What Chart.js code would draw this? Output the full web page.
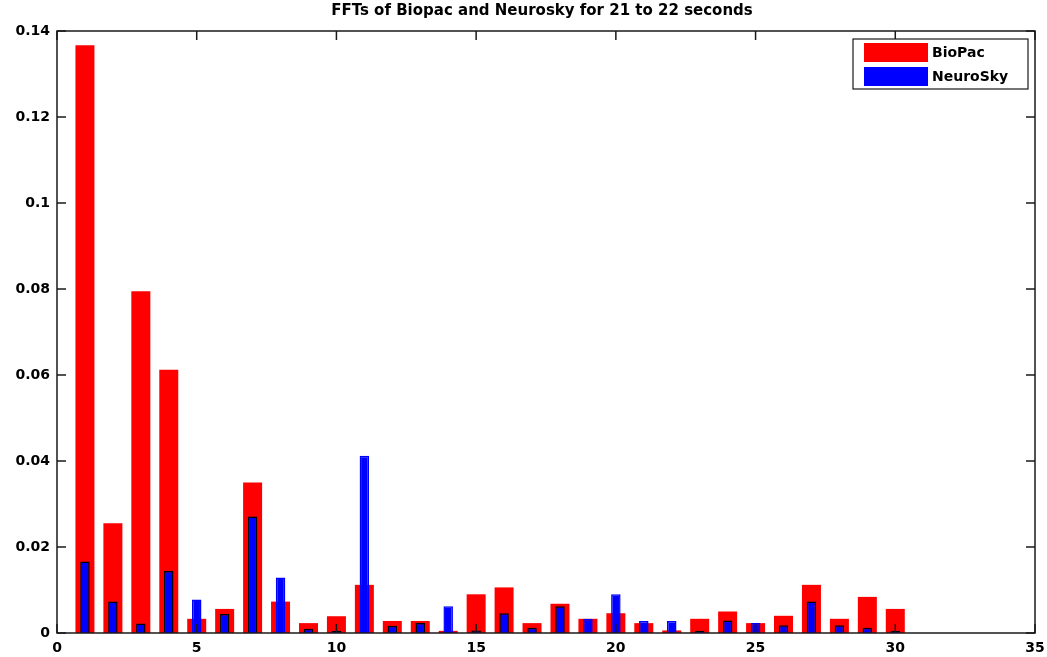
<!DOCTYPE html>
<html>
<head>
<meta charset="utf-8">
<script src="https://cdn.jsdelivr.net/npm/chart.js@4"></script>
<style>
  html, body { margin: 0; padding: 0; background: #fff; }
  #wrap { width: 1047px; height: 657px; }
</style>
</head>
<body>
<div id="wrap"><canvas id="c"></canvas></div>
<script>
// frequency bins (Hz)
const freqs = [1, 2, 3, 4, 5, 6, 7, 8, 9, 10, 11, 12, 13, 14, 15,
               16, 17, 18, 19, 20, 21, 22, 23, 24, 25, 26, 27, 28, 29, 30];
const biopac = [0.1367, 0.0255, 0.0795, 0.0612, 0.0033, 0.0056, 0.0350, 0.0073, 0.0023, 0.0039,
                0.0112, 0.0028, 0.0028, 0.0005, 0.0090, 0.0106, 0.0023, 0.0068, 0.0033, 0.0046,
                0.0023, 0.0006, 0.0033, 0.0050, 0.0023, 0.0040, 0.0112, 0.0033, 0.0084, 0.0056];
const neurosky = [0.0166, 0.0073, 0.0022, 0.0144, 0.0078, 0.0044, 0.0271, 0.0129, 0.0010, 0.0005,
                  0.0412, 0.0017, 0.0023, 0.0062, 0.0006, 0.0046, 0.0012, 0.0062, 0.0033, 0.0090,
                  0.0028, 0.0028, 0.0005, 0.0029, 0.0023, 0.0018, 0.0073, 0.0018, 0.0012, 0.0005];
const title = 'FFTs of Biopac and Neurosky for 21 to 22 seconds';

const FONT = '"DejaVu Sans", sans-serif';

// MATLAB-like frame: box, inward ticks, title and legend box
const matlabAxes = {
  id: 'matlabAxes',
  afterDatasetsDraw(chart) {
    const ctx = chart.ctx;
    const a = chart.chartArea;
    const xs = chart.scales.x, ys = chart.scales.y;
    ctx.save();
    ctx.strokeStyle = '#1a1a1a';
    ctx.lineWidth = 1.5;
    ctx.strokeRect(a.left, a.top, a.right - a.left, a.bottom - a.top);
    ctx.beginPath();
    const tl = 9;
    xs.ticks.forEach(t => {
      const px = xs.getPixelForValue(t.value);
      ctx.moveTo(px, a.bottom); ctx.lineTo(px, a.bottom - tl);
      ctx.moveTo(px, a.top); ctx.lineTo(px, a.top + tl);
    });
    ys.ticks.forEach(t => {
      const py = ys.getPixelForValue(t.value);
      ctx.moveTo(a.left, py); ctx.lineTo(a.left + tl, py);
      ctx.moveTo(a.right, py); ctx.lineTo(a.right - tl, py);
    });
    ctx.stroke();

    // title
    ctx.fillStyle = '#000';
    ctx.font = 'bold 15px ' + FONT;
    ctx.textAlign = 'center';
    ctx.textBaseline = 'middle';
    ctx.fillText(title, (a.left + a.right) / 2 - 4, 11);

    // legend
    const bx = a.right - 182, by = a.top + 8, bw = 175, bh = 50;
    ctx.fillStyle = '#fff';
    ctx.fillRect(bx, by, bw, bh);
    ctx.lineWidth = 1.2;
    ctx.strokeRect(bx, by, bw, bh);
    ctx.font = 'bold 14px ' + FONT;
    ctx.textAlign = 'left';
    chart.data.datasets.forEach((ds, i) => {
      const sy = by + 4 + i * 24;
      ctx.fillStyle = ds.backgroundColor;
      ctx.fillRect(bx + 11, sy, 64, 19);
      ctx.fillStyle = '#000';
      ctx.fillText(ds.label, bx + 79, sy + 10);
    });
    ctx.restore();
  }
};

new Chart(document.getElementById('c'), {
  type: 'bar',
  data: {
    datasets: [
      {
        label: 'BioPac',
        data: freqs.map((f, i) => ({x: f, y: biopac[i]})),
        backgroundColor: '#ff0000',
        borderWidth: 0,
        grouped: false,
        barPercentage: 0.68,
        categoryPercentage: 1,
        order: 2
      },
      {
        label: 'NeuroSky',
        data: freqs.map((f, i) => ({x: f, y: neurosky[i]})),
        backgroundColor: '#0000ff',
        borderColor: ctx => (neurosky[ctx.dataIndex] < biopac[ctx.dataIndex] ? '#000' : '#0000ff'),
        borderWidth: {left: 1.5, right: 1.5, top: 1.5, bottom: 0},
        grouped: false,
        barPercentage: 0.34,
        categoryPercentage: 1,
        order: 1
      }
    ]
  },
  options: {
    responsive: true,
    maintainAspectRatio: false,
    animation: false,
    layout: { padding: { top: 31, right: 12, left: 0, bottom: 0 } },
    plugins: {
      legend: { display: false },
      title: { display: false },
      tooltip: { enabled: false }
    },
    scales: {
      x: {
        type: 'linear',
        min: 0,
        max: 35,
        offset: false,
        grid: { display: false, drawTicks: false, offset: false },
        border: { display: false },
        ticks: { stepSize: 5, padding: 7, color: '#000', font: { family: FONT, size: 14, weight: 'bold' } },
        afterFit: s => { s.height = 24; s.paddingLeft = 0; s.paddingRight = 0; }
      },
      y: {
        min: 0,
        max: 0.14,
        grid: { display: false, drawTicks: false },
        border: { display: false },
        ticks: {
          stepSize: 0.02,
          padding: 7,
          color: '#000',
          font: { family: FONT, size: 14, weight: 'bold' },
          callback: v => String(+v.toFixed(4))
        },
        afterFit: s => { s.width = 57; s.paddingTop = 0; s.paddingBottom = 0; }
      }
    }
  },
  plugins: [matlabAxes]
});
</script>
</body>
</html>
